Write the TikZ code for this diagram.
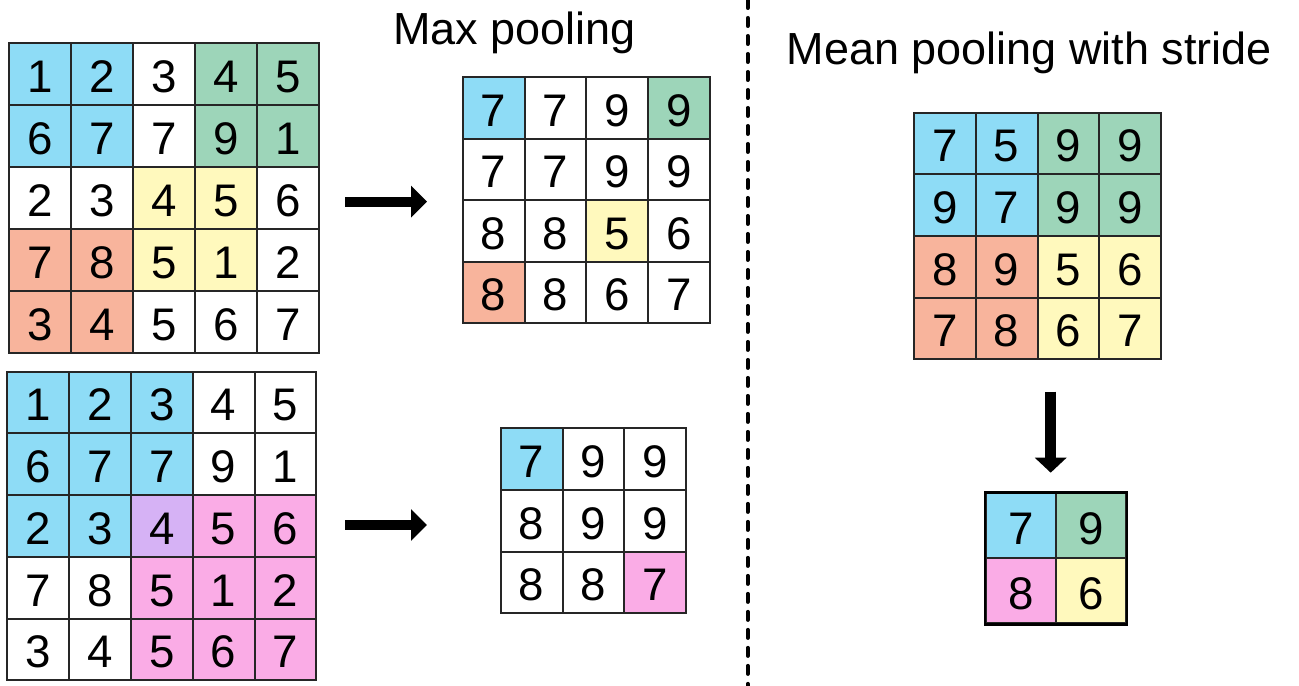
\documentclass[tikz,border=0pt]{standalone}
\usepackage{fontspec}
\setmainfont{Liberation Sans}
\usetikzlibrary{arrows.meta}
\definecolor{cb}{RGB}{142,220,246}
\definecolor{cg}{RGB}{157,213,185}
\definecolor{cy}{RGB}{255,249,189}
\definecolor{cs}{RGB}{248,180,156}
\definecolor{cp}{RGB}{250,172,230}
\definecolor{cv}{RGB}{214,178,245}
\definecolor{cw}{RGB}{255,255,255}
\newcommand\cells[6]{%
  \foreach \row [count=\r] in {#6} {
    \foreach \v/\f [count=\c] in \row {
      \node[cell, fill=\f, minimum width=#4*0.02cm, minimum height=#5*0.02cm]
        (#1-\r-\c) at ({#2+(\c-0.5)*#4}, {#3+(\r-0.5)*#5}) {\v};
    }
  }
}

\begin{document}
\begin{tikzpicture}[x=0.02cm, y=-0.02cm]
\tikzset{cell/.style={draw=black!85, line width=0.04cm, inner sep=0pt, text height=20.9pt, text depth=0pt, font=\fontsize{26}{30}\selectfont},
  titre/.style={anchor=base, inner sep=0pt, font=\fontsize{25.6}{30}\selectfont},
  fleche/.style={line width=0.2cm, -{Triangle[length=0.32cm, width=0.62cm]}}}
\useasboundingbox (0,0) rectangle (1299,686);
\cells{in1}{9.3}{42.7}{62}{62}{{1/cb,2/cb,3/cw,4/cg,5/cg},{6/cb,7/cb,7/cw,9/cg,1/cg},{2/cw,3/cw,4/cy,5/cy,6/cw},{7/cs,8/cs,5/cy,1/cy,2/cw},{3/cs,4/cs,5/cw,6/cw,7/cw}}
\cells{in2}{7.3}{371.7}{61.8}{61.7}{{1/cb,2/cb,3/cb,4/cw,5/cw},{6/cb,7/cb,7/cb,9/cw,1/cw},{2/cb,3/cb,4/cv,5/cp,6/cp},{7/cw,8/cw,5/cp,1/cp,2/cp},{3/cw,4/cw,5/cp,6/cp,7/cp}}
\cells{out1}{462.7}{77.3}{61.8}{61.5}{{7/cb,7/cw,9/cw,9/cg},{7/cw,7/cw,9/cw,9/cw},{8/cw,8/cw,5/cy,6/cw},{8/cs,8/cw,6/cw,7/cw}}
\cells{out2}{500.7}{428.3}{61.8}{61.7}{{7/cb,9/cw,9/cw},{8/cw,9/cw,9/cw},{8/cw,8/cw,7/cp}}
\cells{in3}{914}{112.7}{61.75}{61.65}{{7/cb,5/cb,9/cg,9/cg},{9/cb,7/cb,9/cg,9/cg},{8/cs,9/cs,5/cy,6/cy},{7/cs,8/cs,6/cy,7/cy}}
\cells{out3}{986}{493.3}{70}{65}{{7/cb,9/cg},{8/cp,6/cy}}
\draw[line width=0.05cm] (out3-1-1.north west) rectangle (out3-2-2.south east);
\node[titre] (tmax) at (514.5,44.5) {Max pooling};
\node[titre] (tmean) at (1029.5,64.6) {Mean pooling with stride};
\coordinate (f1a) at (345,201.7);
\coordinate (f1b) at (427,201.7);
\coordinate (f2a) at (345,525);
\coordinate (f2b) at (427,525);
\coordinate (f3a) at (1050.7,391.7);
\coordinate (f3b) at (1050.7,472.7);
\draw[fleche] (f1a) -- (f1b);
\draw[fleche] (f2a) -- (f2b);
\draw[line width=0.22cm, -{Triangle[length=0.3cm, width=0.62cm]}] (f3a) -- (f3b);
\coordinate (dhaut) at (747.7,0);
\coordinate (dbas) at (747.7,686);
\draw[line width=0.08cm, line cap=round, dash pattern=on 0.16cm off 0.2cm] (dhaut) -- (dbas);
\end{tikzpicture}
\end{document}
